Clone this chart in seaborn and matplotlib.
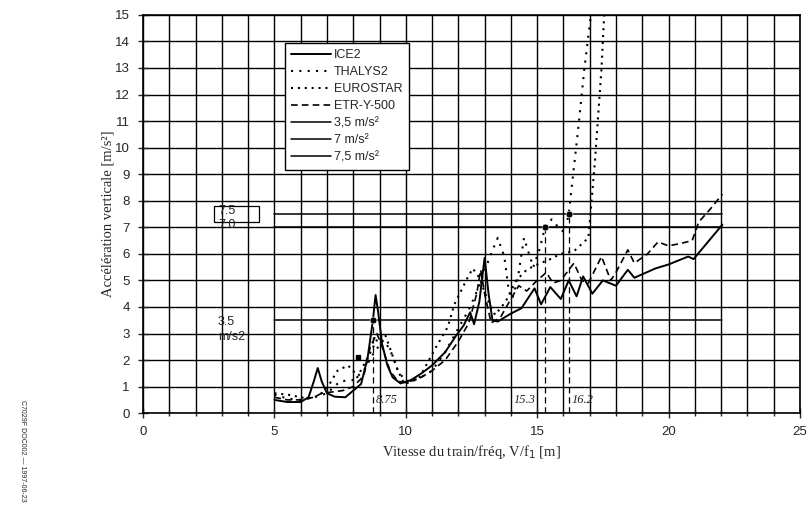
import matplotlib
matplotlib.use("Agg")
import matplotlib.pyplot as plt
from matplotlib.patches import Rectangle
import seaborn as sns
import pandas as pd

# courbes (V/f1 en m, acceleration en m/s2)
ice2_x = [5.0, 5.5, 6.0, 6.3, 6.5, 6.65, 6.8, 7.0, 7.3, 7.7, 8.0, 8.3, 8.55, 8.75, 8.85, 8.95, 9.1, 9.3, 9.5,
          9.8, 10.2, 10.6, 11.0, 11.5, 11.9, 12.2, 12.45, 12.6, 12.8, 13.0, 13.15, 13.3, 13.5, 14.0, 14.4,
          14.9, 15.15, 15.5, 15.9, 16.2, 16.5, 16.75, 17.1, 17.5, 18.0, 18.45, 18.7, 19.5, 20.0, 20.75,
          20.95, 21.5, 22.05]
ice2_y = [0.5, 0.42, 0.42, 0.6, 1.2, 1.7, 1.2, 0.75, 0.62, 0.6, 0.85, 1.1, 2.1, 3.5, 4.45, 3.8, 2.6, 1.8, 1.35,
          1.12, 1.25, 1.5, 1.8, 2.3, 2.9, 3.3, 3.8, 3.35, 4.2, 5.85, 4.5, 3.5, 3.45, 3.75, 3.95,
          4.7, 4.1, 4.75, 4.3, 5.0, 4.4, 5.15, 4.5, 5.0, 4.8, 5.4, 5.1, 5.45, 5.6, 5.9,
          5.8, 6.45, 7.1]

thalys_x = [5.0, 5.5, 6.0, 6.5, 7.0, 7.5, 8.0, 8.4, 8.8, 9.15, 9.4, 9.7, 10.0, 10.5, 11.0, 11.5, 12.0, 12.4,
            12.8, 13.2, 13.5, 13.75, 13.9, 14.05, 14.25, 14.5, 14.85, 15.1, 15.3, 15.55, 15.85, 16.05, 16.2,
            16.55, 16.8, 17.07]
thalys_y = [0.7, 0.55, 0.5, 0.6, 0.75, 1.2, 1.25, 1.6, 2.3, 2.75, 2.4, 1.6, 1.2, 1.3, 1.6, 2.3, 3.2, 3.9,
            4.8, 5.9, 6.6, 5.9, 4.75, 4.3, 5.0, 6.6, 5.5, 6.2, 7.0, 7.3, 6.95, 6.8, 7.5,
            10.6, 13.0, 15.2]

euro_x = [5.0, 5.5, 6.0, 6.25, 6.7, 7.1, 7.4, 7.8, 8.0, 8.15, 8.5, 8.95, 9.2, 9.45, 9.7, 9.95, 10.5, 11.1,
          11.6, 11.85, 12.35, 12.55, 12.8, 13.1, 13.4, 13.8, 14.2, 14.6, 15.0, 15.5, 15.9, 16.4, 16.95,
          17.2, 17.45, 17.56]
euro_y = [0.75, 0.7, 0.6, 0.55, 0.65, 1.1, 1.6, 1.8, 1.6, 1.35, 2.0, 2.85, 3.0, 2.3, 1.6, 1.1, 1.3, 2.4,
          3.25, 4.1, 5.1, 5.45, 5.1, 4.3, 3.7, 4.2, 5.0, 5.4, 5.6, 5.8, 6.0, 6.1, 6.6,
          9.5, 13.0, 15.2]

etr_x = [5.0, 5.5, 6.0, 6.5, 6.8, 7.2, 7.6, 8.0, 8.4, 8.65, 8.9, 9.1, 9.4, 9.7, 10.0, 10.5, 11.0, 11.5,
         12.0, 12.4, 12.7, 12.85, 13.0, 13.25, 13.6, 14.0, 14.3, 14.6, 15.0, 15.35, 15.6, 15.9, 16.4,
         16.7, 16.95, 17.45, 17.8, 18.0, 18.45, 18.7, 19.2, 19.6, 20.0, 20.5, 20.9, 21.15, 21.6, 22.05]
etr_y = [0.6, 0.5, 0.5, 0.6, 0.75, 0.8, 0.85, 1.0, 1.4, 2.5, 3.0, 2.5, 1.6, 1.2, 1.15, 1.3, 1.6, 2.0,
         2.7, 3.4, 4.5, 5.4, 4.5, 3.4, 3.6, 4.3, 4.8, 4.6, 5.0, 5.3, 4.9, 5.0, 5.65,
         5.0, 4.9, 5.9, 5.0, 5.3, 6.15, 5.65, 6.0, 6.45, 6.3, 6.4, 6.5, 7.2, 7.7, 8.25]

# seuils d'acceleration
seuil_x = [5.0, 22.05]
seuil_vals = [3.5, 7.0, 7.5]
seuil_labels = ["3,5 m/s²", "7 m/s²", "7,5 m/s²"]

# vitesses critiques
crit_x = [8.75, 15.3, 16.2]
crit_y = [3.5, 7.0, 7.5]
crit_txt = ["8.75", "15.3", "16.2"]

train_styles = {
    "ICE2": (ice2_x, ice2_y, "-", 1.4),
    "THALYS2": (thalys_x, thalys_y, (0, (1, 3.0)), 1.5),
    "EUROSTAR": (euro_x, euro_y, (0, (1, 2.3)), 1.5),
    "ETR-Y-500": (etr_x, etr_y, (0, (4, 2.5)), 1.2),
}

sns.set_style("ticks")
plt.rcParams["font.family"] = ["Liberation Sans", "DejaVu Sans"]

fig = plt.figure(figsize=(8.08, 5.12), dpi=100)
ax = fig.add_axes([0.177, 0.193, 0.813, 0.778])

for name, (xs, ys, ls, lw) in train_styles.items():
    df = pd.DataFrame({"x": xs, "y": ys})
    sns.lineplot(data=df, x="x", y="y", ax=ax, color="black", linestyle=ls, lw=lw,
                 label=name, sort=False, estimator=None)

for val, lab in zip(seuil_vals, seuil_labels):
    sns.lineplot(x=seuil_x, y=[val, val], ax=ax, color="black", lw=1.1, label=lab)

for cx, cy, txt in zip(crit_x, crit_y, crit_txt):
    ax.plot([cx, cx], [0, cy], color="black", lw=0.9, dashes=(5, 3))
    ax.text(cx + (0.1 if txt != "15.3" else -1.2), 0.5, txt, fontsize=9, style="italic",
            family=["Liberation Serif", "DejaVu Serif"], va="center")
sns.scatterplot(x=crit_x, y=crit_y, ax=ax, color="black", s=24, zorder=5, legend=False)
ax.plot([8.2], [2.1], marker="s", color="black", ms=3.5)

# annotations a gauche
ax.add_patch(Rectangle((2.72, 7.2), 1.68, 0.6, fill=False, ec="black", lw=0.9))
ax.text(2.85, 7.62, "7.5", fontsize=9, va="center")
ax.text(2.85, 7.1, "7.0", fontsize=9, va="center")
ax.text(2.85, 3.42, "3.5", fontsize=9, va="center")
ax.text(2.85, 2.88, "m/s2", fontsize=9, va="center")

ax.set_xlim(0, 25)
ax.set_ylim(0, 15)
ax.set_xticks(range(0, 26, 5))
ax.set_xticks(range(0, 26), minor=True)
ax.set_yticks(range(0, 16))
ax.grid(True, which="both", color="black", lw=1.0)
ax.tick_params(axis="both", which="major", direction="inout", length=7, width=1, labelsize=9.5, pad=6)
ax.tick_params(axis="x", which="minor", direction="inout", length=5, width=1)
for sp in ax.spines.values():
    sp.set_color("black")
    sp.set_linewidth(1.2)

ax.set_xlabel("Vitesse du train/fréq, V/f$_1$ [m]", family=["Liberation Serif", "DejaVu Serif"],
              fontsize=10.5, labelpad=3)
ax.set_ylabel("Accélération verticale [m/s²]", family=["Liberation Serif", "DejaVu Serif"],
              fontsize=10.5, labelpad=0)

leg = ax.legend(loc="upper left", bbox_to_anchor=(0.207, 0.945), fontsize=9, frameon=True,
                fancybox=False, edgecolor="black", framealpha=1, handlelength=3.2,
                handletextpad=0.2, labelspacing=0.4, borderpad=0.5)
leg.get_frame().set_linewidth(1.0)

fig.text(22 / 808, 1 - 400 / 512, "C7029F DOC002 — 1997-06-23", rotation=270, fontsize=5,
         ha="center", va="top")

fig.savefig("out.png", dpi=100)
